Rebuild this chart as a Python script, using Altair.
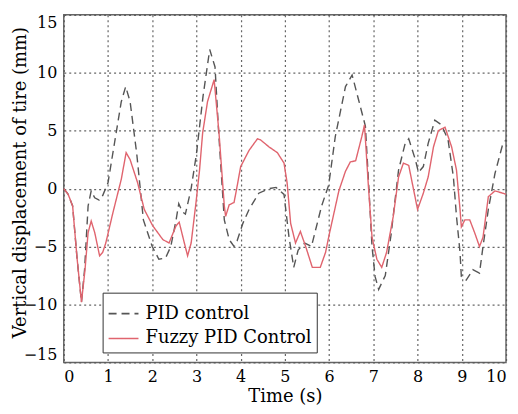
import altair as alt
import pandas as pd

# ---- data ----
series_names = ["PID control", "Fuzzy PID Control"]

t_pid = [0, 0.1, 0.2, 0.3, 0.4, 0.47, 0.55, 0.62, 0.7, 0.8, 0.88, 1.0, 1.15, 1.3, 1.4, 1.5,
         1.65, 1.8, 2.0, 2.15, 2.3, 2.42, 2.54, 2.6, 2.68, 2.75, 2.88, 3.0, 3.15, 3.3, 3.42,
         3.5, 3.63, 3.74, 3.85, 3.92, 4.05, 4.19, 4.41, 4.64, 4.8, 4.98, 5.09, 5.2, 5.3, 5.45,
         5.6, 5.83, 5.99, 6.14, 6.37, 6.52, 6.67, 6.82, 6.9, 6.97, 7.04, 7.12, 7.27, 7.4, 7.57,
         7.72, 7.8, 7.95, 8.02, 8.13, 8.24, 8.39, 8.54, 8.69, 8.81, 8.88, 8.96, 8.99, 9.1,
         9.25, 9.4, 9.48, 9.6, 9.75, 9.93, 10]
v_pid = [0, -0.5, -1.5, -6, -9.8, -7, -1.5, -0.2, -0.8, -1.0, -0.6, 0.5, 4, 7.5, 8.8, 7.5,
         3, -2.7, -5, -6.1, -6, -5, -2.7, -1.3, -2, -2.2, 0, 3, 8, 12, 10.5,
         5, -2.7, -4.4, -5, -4.5, -3, -1.8, -0.4, 0, 0.1, -0.5, -4.1, -6.8, -5.3, -4.7,
         -5.0, -1.5, 0.3, 4.5, 8.8, 9.8, 7.6, 5.4, 0, -5, -7.6, -8.7, -7.5, -4, 1.6,
         3.9, 4.3, 2.5, 1.4, 1.9, 3.9, 5.9, 5.5, 4.2, 1.0, -2.4, -5.5, -7.6, -7.9,
         -7.0, -7.3, -5, -1.8, 1.3, 3.9, 4.2]

t_fuzzy = [0, 0.1, 0.2, 0.3, 0.4, 0.48, 0.55, 0.62, 0.7, 0.81, 0.88, 0.95, 1.11, 1.3, 1.41,
           1.5, 1.67, 1.82, 2.01, 2.24, 2.38, 2.54, 2.61, 2.72, 2.8, 2.88, 2.99, 3.07, 3.14,
           3.25, 3.4, 3.51, 3.63, 3.66, 3.74, 3.85, 3.91, 4.0, 4.19, 4.38, 4.45, 4.64, 4.83,
           4.98, 5.05, 5.13, 5.24, 5.35, 5.47, 5.62, 5.8, 5.92, 6.0, 6.22, 6.37, 6.48, 6.6,
           6.74, 6.8, 6.89, 6.97, 7.08, 7.19, 7.3, 7.45, 7.57, 7.68, 7.8, 7.9, 8.0, 8.13,
           8.24, 8.36, 8.47, 8.62, 8.77, 8.88, 8.96, 8.99, 9.07, 9.18, 9.29, 9.4, 9.48,
           9.6, 9.75, 9.93, 10]
v_fuzzy = [0, -0.5, -1.5, -6, -9.8, -7, -3.8, -2.8, -3.8, -5.8, -5.5, -4.7, -2.1, 0.8, 3.1,
           2.5, 0.5, -1.8, -3.2, -4.4, -4.7, -3.2, -2.9, -4.6, -5.8, -4.7, -1.2, 1.6, 4.8,
           7.5, 9.4, 4.8, -1.5, -2.4, -1.4, -1.2, 0, 1.9, 3.3, 4.3, 4.2, 3.6, 3.1,
           2.2, 0.5, -3, -4.7, -3.7, -5, -6.8, -6.8, -5.5, -4, -0.2, 1.5, 2.3, 2.4,
           4.5, 5.5, 0.1, -4.2, -6.1, -6.8, -5.5, -2.4, 1.0, 2.2, 2.0, 0.1, -1.8, -0.4,
           1.0, 3.6, 5.0, 5.3, 3.6, 1.6, -1.8, -3.3, -2.7, -2.7, -3.8, -5, -4.2,
           -0.7, -0.2, -0.4, -0.5]

x_ticks = [0, 1, 2, 3, 4, 5, 6, 7, 8, 9, 10]
y_ticks = [-15, -10, -5, 0, 5, 10, 15]

df = pd.concat([
    pd.DataFrame({"t": t_pid, "v": v_pid, "series": series_names[0]}),
    pd.DataFrame({"t": t_fuzzy, "v": v_fuzzy, "series": series_names[1]}),
], ignore_index=True)

FONT = "DejaVu Serif"

legend = alt.Legend(
    title=None, orient="none", legendX=39, legendY=279,
    labelFont=FONT, labelFontSize=18, labelColor="black", labelLimit=400,
    symbolType="stroke", symbolSize=900, symbolStrokeWidth=1.6,
    fillColor="white", strokeColor="#333333", padding=5, rowPadding=0,
    labelOffset=6, cornerRadius=0,
)

chart = alt.Chart(df).mark_line(strokeWidth=1.4).encode(
    x=alt.X("t:Q", scale=alt.Scale(domain=[0, 10], nice=False),
            axis=alt.Axis(values=x_ticks, title="Time (s)", format="d")),
    y=alt.Y("v:Q", scale=alt.Scale(domain=[-15, 15], nice=False),
            axis=alt.Axis(values=y_ticks, title="Vertical displacement of tire (mm)", format="d",
                          labelFlush=True, titleX=-34, titleY=168)),
    color=alt.Color("series:N", sort=series_names,
                    scale=alt.Scale(domain=series_names, range=["#555555", "#e0646e"]),
                    legend=legend),
    strokeDash=alt.StrokeDash("series:N", sort=series_names,
                              scale=alt.Scale(domain=series_names, range=[[8, 5], [1, 0]]),
                              legend=legend),
).properties(
    width=444, height=349,
    autosize=alt.AutoSizeParams(type="none"),
    padding={"left": 56, "top": 6, "right": 4, "bottom": 50},
).configure(
    font=FONT
).configure_view(
    stroke="#666666", strokeWidth=1.5
).configure_axis(
    grid=True, gridColor="#555555", gridDash=[2, 3], gridWidth=1.2, gridOpacity=0.9,
    ticks=False, domain=False,
    labelFont=FONT, labelFontSize=16, labelColor="black",
    titleFont=FONT, titleFontWeight="normal", titleColor="black",
).configure_axisX(
    titleFontSize=18, titlePadding=3, labelPadding=6,
).configure_axisY(
    titleFontSize=18, labelPadding=7,
)

chart.save("out.html", embed_options={"renderer": "svg", "actions": False})
